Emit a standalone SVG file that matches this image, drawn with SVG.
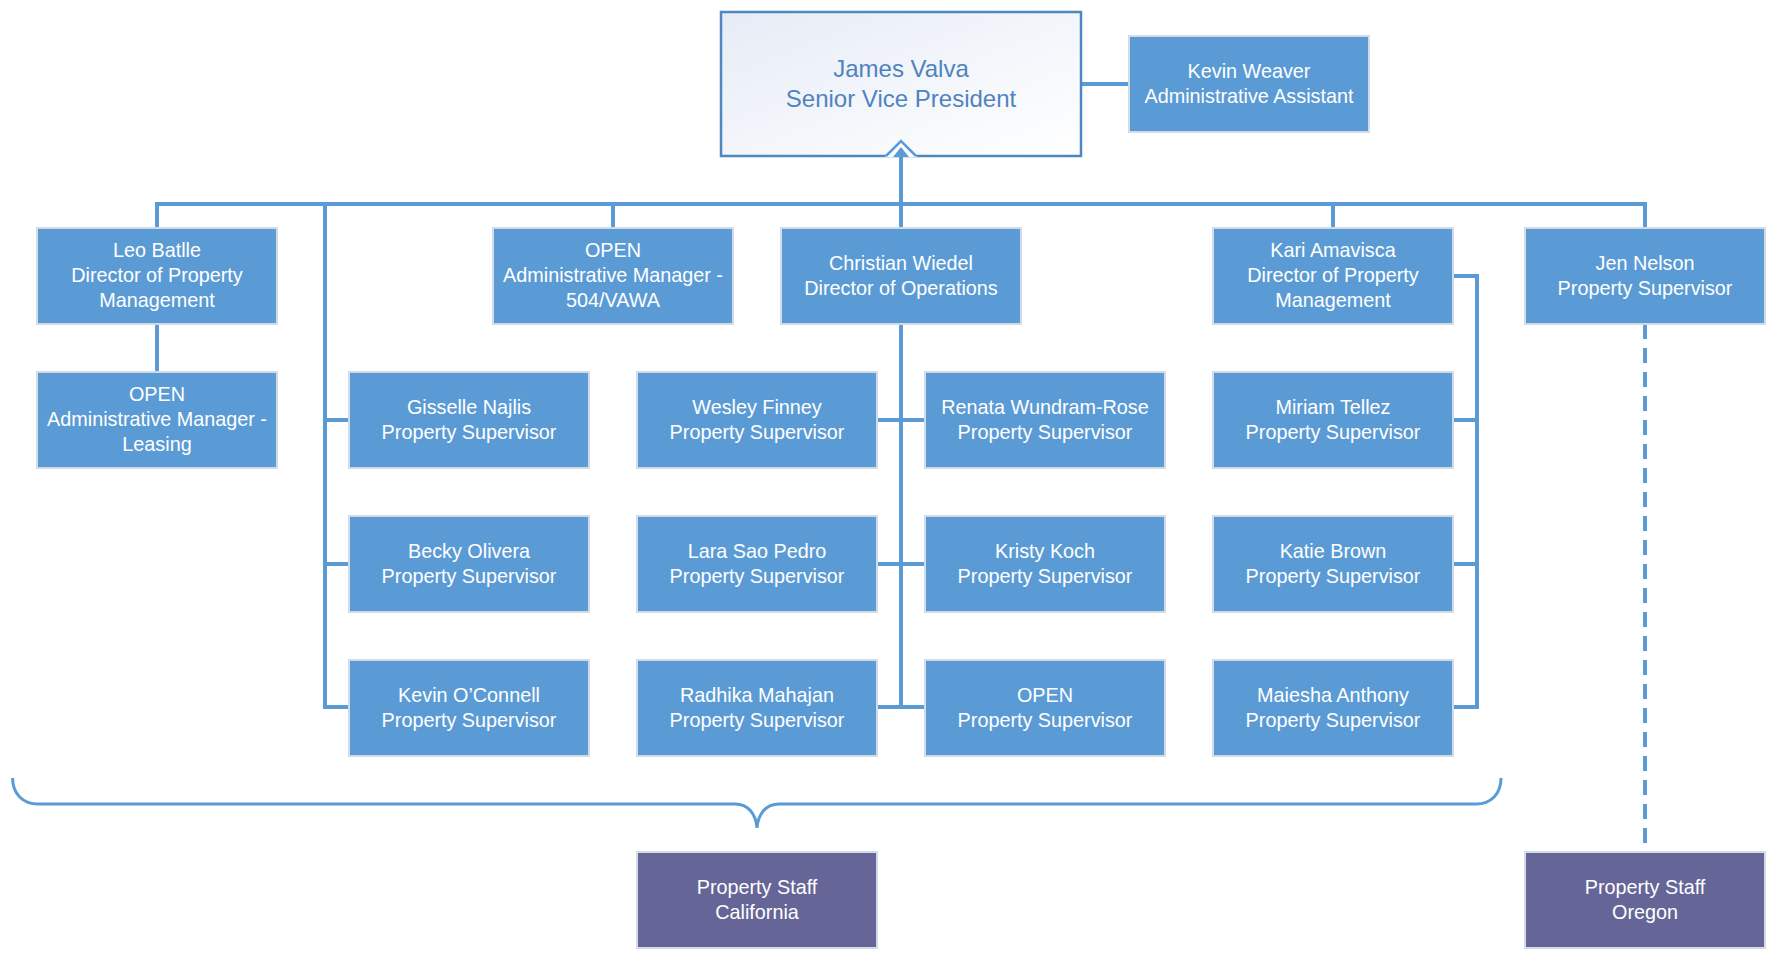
<svg xmlns="http://www.w3.org/2000/svg" width="1775" height="955" viewBox="0 0 1775 955">
  <defs>
    <linearGradient id="execFill" x1="0" y1="0" x2="1" y2="1">
      <stop offset="0" stop-color="#e6ecf6"/>
      <stop offset="1" stop-color="#ffffff"/>
    </linearGradient>
    <style>
      .box { fill: #5b9bd5; stroke: #d3dbe6; stroke-width: 2; }
      .staff { fill: #656598; stroke: #d3dbe6; stroke-width: 2; }
      .exec { fill: url(#execFill); stroke: #4f87bf; stroke-width: 2.5; }
      .lbl { font-family: "Liberation Sans", Arial, sans-serif; font-size: 19.8px; fill: #ffffff; text-anchor: middle; }
      .execLbl { font-family: "Liberation Sans", Arial, sans-serif; font-size: 24px; fill: #4f83bf; text-anchor: middle; }
      .conn { fill: none; stroke: #5b9bd5; stroke-width: 4; }
      .dash { fill: none; stroke: #5b9bd5; stroke-width: 4; stroke-dasharray: 15 9; }
      .brace { fill: none; stroke: #5b9bd5; stroke-width: 3; }
    </style>
  </defs>

  <rect width="1775" height="955" fill="#ffffff"/>

  <!-- reporting lines -->
  <g id="connectors">
    <path class="conn" d="M157 228 V204 H1645 V228"/>
    <path class="conn" d="M901 150 V228"/>
    <path class="conn" d="M1081 84 H1129"/>
    <path class="conn" d="M613 204 V228"/>
    <path class="conn" d="M1333 204 V228"/>
    <path class="conn" d="M157 324 V372"/>
    <path class="conn" d="M325 204 V707 H349 M325 420 H349 M325 564 H349"/>
    <path class="conn" d="M901 324 V707 M877 420 H925 M877 564 H925 M877 707 H925"/>
    <path class="conn" d="M1453 276 H1477 V707 H1453 M1453 420 H1477 M1453 564 H1477"/>
    <path class="dash" d="M1645 324 V844"/>
    <path class="brace" d="M12.6 778 C12.6 794 23 804 38 804 H735 C748 804 756 814 757 828 C758 814 766 804 779 804 H1476 C1491 804 1501 794 1501 778"/>
  </g>

  <!-- senior vice president -->
  <g id="james-valva">
    <rect class="exec" x="721" y="12" width="360" height="144"/>
    <text class="execLbl"><tspan x="901" y="76.5">James Valva</tspan><tspan x="901" y="106.5">Senior Vice President</tspan></text>
    <polygon points="885,157 901,140 917,157" fill="#ffffff"/>
    <polyline points="886,156 901,141 916,156" fill="none" stroke="#5b9bd5" stroke-width="2.5"/>
    <polygon points="893,157 901,147 909,157" fill="#5b9bd5"/>
  </g>

  <g id="kevin-weaver">
    <rect class="box" x="1129" y="36" width="240" height="96"/>
    <text class="lbl"><tspan x="1249" y="77.5">Kevin Weaver</tspan><tspan x="1249" y="102.5">Administrative Assistant</tspan></text>
  </g>

  <!-- direct reports -->
  <g id="leo-batlle">
    <rect class="box" x="37" y="228" width="240" height="96"/>
    <text class="lbl"><tspan x="157" y="257">Leo Batlle</tspan><tspan x="157" y="282">Director of Property</tspan><tspan x="157" y="307">Management</tspan></text>
  </g>
  <g id="open-admin-leasing">
    <rect class="box" x="37" y="372" width="240" height="96"/>
    <text class="lbl"><tspan x="157" y="401">OPEN</tspan><tspan x="157" y="426">Administrative Manager -</tspan><tspan x="157" y="451">Leasing</tspan></text>
  </g>
  <g id="open-admin-504">
    <rect class="box" x="493" y="228" width="240" height="96"/>
    <text class="lbl"><tspan x="613" y="257">OPEN</tspan><tspan x="613" y="282">Administrative Manager -</tspan><tspan x="613" y="307">504/VAWA</tspan></text>
  </g>
  <g id="christian-wiedel">
    <rect class="box" x="781" y="228" width="240" height="96"/>
    <text class="lbl"><tspan x="901" y="269.5">Christian Wiedel</tspan><tspan x="901" y="294.5">Director of Operations</tspan></text>
  </g>
  <g id="kari-amavisca">
    <rect class="box" x="1213" y="228" width="240" height="96"/>
    <text class="lbl"><tspan x="1333" y="257">Kari Amavisca</tspan><tspan x="1333" y="282">Director of Property</tspan><tspan x="1333" y="307">Management</tspan></text>
  </g>
  <g id="jen-nelson">
    <rect class="box" x="1525" y="228" width="240" height="96"/>
    <text class="lbl"><tspan x="1645" y="269.5">Jen Nelson</tspan><tspan x="1645" y="294.5">Property Supervisor</tspan></text>
  </g>

  <!-- property supervisors -->
  <g id="gisselle-najlis">
    <rect class="box" x="349" y="372" width="240" height="96"/>
    <text class="lbl"><tspan x="469" y="413.5">Gisselle Najlis</tspan><tspan x="469" y="438.5">Property Supervisor</tspan></text>
  </g>
  <g id="becky-olivera">
    <rect class="box" x="349" y="516" width="240" height="96"/>
    <text class="lbl"><tspan x="469" y="557.5">Becky Olivera</tspan><tspan x="469" y="582.5">Property Supervisor</tspan></text>
  </g>
  <g id="kevin-oconnell">
    <rect class="box" x="349" y="660" width="240" height="96"/>
    <text class="lbl"><tspan x="469" y="701.5">Kevin O’Connell</tspan><tspan x="469" y="726.5">Property Supervisor</tspan></text>
  </g>
  <g id="wesley-finney">
    <rect class="box" x="637" y="372" width="240" height="96"/>
    <text class="lbl"><tspan x="757" y="413.5">Wesley Finney</tspan><tspan x="757" y="438.5">Property Supervisor</tspan></text>
  </g>
  <g id="lara-sao-pedro">
    <rect class="box" x="637" y="516" width="240" height="96"/>
    <text class="lbl"><tspan x="757" y="557.5">Lara Sao Pedro</tspan><tspan x="757" y="582.5">Property Supervisor</tspan></text>
  </g>
  <g id="radhika-mahajan">
    <rect class="box" x="637" y="660" width="240" height="96"/>
    <text class="lbl"><tspan x="757" y="701.5">Radhika Mahajan</tspan><tspan x="757" y="726.5">Property Supervisor</tspan></text>
  </g>
  <g id="renata-wundram-rose">
    <rect class="box" x="925" y="372" width="240" height="96"/>
    <text class="lbl"><tspan x="1045" y="413.5">Renata Wundram-Rose</tspan><tspan x="1045" y="438.5">Property Supervisor</tspan></text>
  </g>
  <g id="kristy-koch">
    <rect class="box" x="925" y="516" width="240" height="96"/>
    <text class="lbl"><tspan x="1045" y="557.5">Kristy Koch</tspan><tspan x="1045" y="582.5">Property Supervisor</tspan></text>
  </g>
  <g id="open-supervisor">
    <rect class="box" x="925" y="660" width="240" height="96"/>
    <text class="lbl"><tspan x="1045" y="701.5">OPEN</tspan><tspan x="1045" y="726.5">Property Supervisor</tspan></text>
  </g>
  <g id="miriam-tellez">
    <rect class="box" x="1213" y="372" width="240" height="96"/>
    <text class="lbl"><tspan x="1333" y="413.5">Miriam Tellez</tspan><tspan x="1333" y="438.5">Property Supervisor</tspan></text>
  </g>
  <g id="katie-brown">
    <rect class="box" x="1213" y="516" width="240" height="96"/>
    <text class="lbl"><tspan x="1333" y="557.5">Katie Brown</tspan><tspan x="1333" y="582.5">Property Supervisor</tspan></text>
  </g>
  <g id="maiesha-anthony">
    <rect class="box" x="1213" y="660" width="240" height="96"/>
    <text class="lbl"><tspan x="1333" y="701.5">Maiesha Anthony</tspan><tspan x="1333" y="726.5">Property Supervisor</tspan></text>
  </g>

  <!-- staff groups -->
  <g id="staff-california">
    <rect class="staff" x="637" y="852" width="240" height="96"/>
    <text class="lbl"><tspan x="757" y="893.5">Property Staff</tspan><tspan x="757" y="918.5">California</tspan></text>
  </g>
  <g id="staff-oregon">
    <rect class="staff" x="1525" y="852" width="240" height="96"/>
    <text class="lbl"><tspan x="1645" y="893.5">Property Staff</tspan><tspan x="1645" y="918.5">Oregon</tspan></text>
  </g>
</svg>
